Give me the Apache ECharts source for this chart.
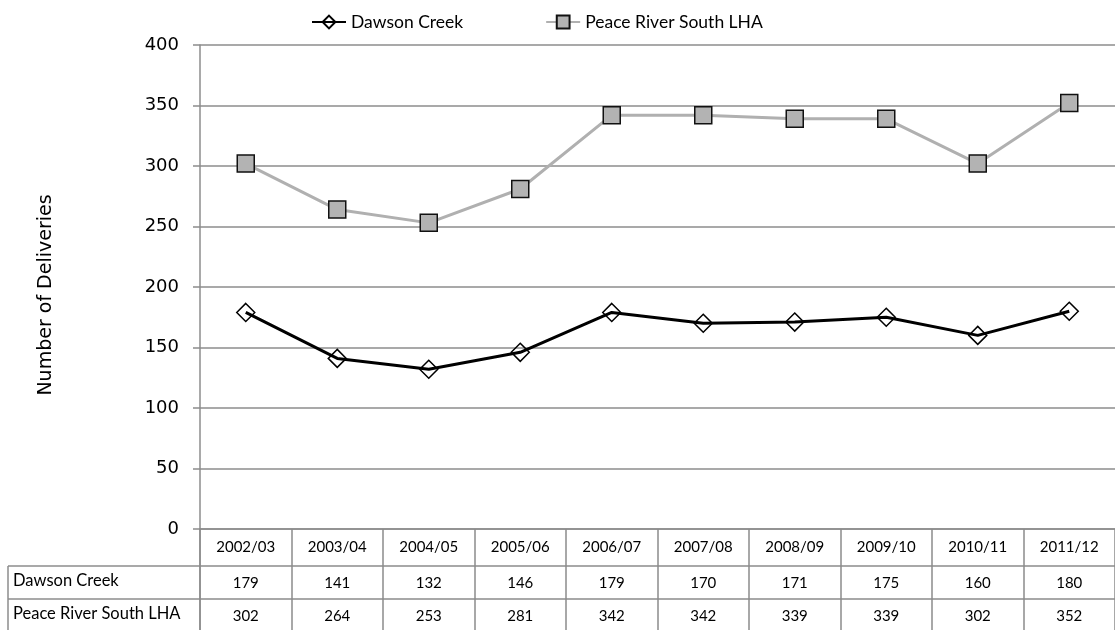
<!DOCTYPE html>
<html>
<head>
<meta charset="utf-8">
<script src="https://cdn.jsdelivr.net/npm/echarts@6/dist/echarts.min.js"></script>
<style>
  html, body { margin: 0; padding: 0; background: #fff; }
  #chart { width: 1115px; height: 630px; }
</style>
</head>
<body>
<div id="chart"></div>
<script>
  // 数据
  var years = ['2002/03', '2003/04', '2004/05', '2005/06', '2006/07', '2007/08', '2008/09', '2009/10', '2010/11', '2011/12'];
  var seriesNames = ['Dawson Creek', 'Peace River South LHA'];
  var dawson = [179, 141, 132, 146, 179, 170, 171, 175, 160, 180];
  var peace = [302, 264, 253, 281, 342, 342, 339, 339, 302, 352];

  var gridColor = '#8c8c8c';
  var tableFont = 'Lato';
  var axisFont = 'DejaVu Sans';

  // table row axis (values shown under the chart)
  function tableAxis(values, offset) {
    return {
      type: 'category',
      data: values.map(String),
      position: 'bottom',
      offset: offset,
      boundaryGap: true,
      axisLine: {show: true, lineStyle: {color: gridColor, width: 1.5}},
      axisTick: {show: true, interval: 0, length: 33, lineStyle: {color: gridColor, width: 1.5}},
      axisLabel: {interval: 0, color: '#000', fontSize: 15, fontFamily: tableFont, margin: 10},
      splitLine: {show: false}
    };
  }

  var myChart = echarts.init(document.getElementById('chart'));
  myChart.setOption({
    animation: false,
    legend: {
      data: seriesNames,
      left: 306,
      top: 8,
      itemWidth: 34,
      itemHeight: 16,
      itemGap: 82,
      textStyle: {fontSize: 17.5, fontFamily: tableFont, color: '#000'}
    },
    grid: {left: 200, right: -16, top: 45, bottom: 101, containLabel: false},
    xAxis: [
      {
        type: 'category',
        data: years,
        boundaryGap: true,
        axisLine: {show: true, lineStyle: {color: gridColor, width: 1.5}},
        axisTick: {show: true, interval: 0, length: 37, lineStyle: {color: gridColor, width: 1.5}},
        axisLabel: {interval: 0, color: '#000', fontSize: 15, fontFamily: tableFont, margin: 11},
        splitLine: {show: false}
      },
      tableAxis(dawson, 37),
      tableAxis(peace, 70)
    ],
    yAxis: {
      type: 'value',
      min: 0,
      max: 400,
      interval: 50,
      name: 'Number of Deliveries',
      nameLocation: 'middle',
      nameGap: 144,
      nameTextStyle: {fontSize: 19, fontFamily: axisFont, color: '#000', padding: [0, 16, 0, 0]},
      axisLine: {show: true, lineStyle: {color: gridColor, width: 1.5}},
      axisTick: {show: true, length: 7, lineStyle: {color: gridColor, width: 1.5}},
      axisLabel: {fontSize: 18, fontFamily: axisFont, color: '#000', margin: 21},
      splitLine: {lineStyle: {color: gridColor, width: 1.5}}
    },
    series: [
      {
        name: seriesNames[0],
        type: 'line',
        data: dawson,
        symbol: 'diamond',
        symbolSize: 18,
        lineStyle: {color: '#000', width: 3},
        itemStyle: {color: 'rgba(255,255,255,0)', borderColor: '#000', borderWidth: 1.5},
        z: 3
      },
      {
        name: seriesNames[1],
        type: 'line',
        data: peace,
        symbol: 'rect',
        symbolSize: 17,
        lineStyle: {color: '#b0b0b0', width: 3},
        itemStyle: {color: '#b3b3b3', borderColor: '#111', borderWidth: 1.5},
        z: 2
      }
    ],
    graphic: [
      // left part of the data table
      {type: 'line', shape: {x1: 8, y1: 566, x2: 200, y2: 566}, style: {stroke: gridColor, lineWidth: 1.5}},
      {type: 'line', shape: {x1: 8, y1: 599, x2: 200, y2: 599}, style: {stroke: gridColor, lineWidth: 1.5}},
      {type: 'line', shape: {x1: 8, y1: 566, x2: 8, y2: 632}, style: {stroke: gridColor, lineWidth: 1.5}},
      {type: 'line', shape: {x1: 200, y1: 529, x2: 200, y2: 632}, style: {stroke: gridColor, lineWidth: 1.5}},
      {type: 'text', left: 13, top: 572, style: {text: seriesNames[0], fontSize: 16.5, fontFamily: tableFont, fill: '#000'}},
      {type: 'text', left: 13, top: 605, style: {text: seriesNames[1], fontSize: 16.5, fontFamily: tableFont, fill: '#000'}}
    ]
  });
</script>
</body>
</html>
